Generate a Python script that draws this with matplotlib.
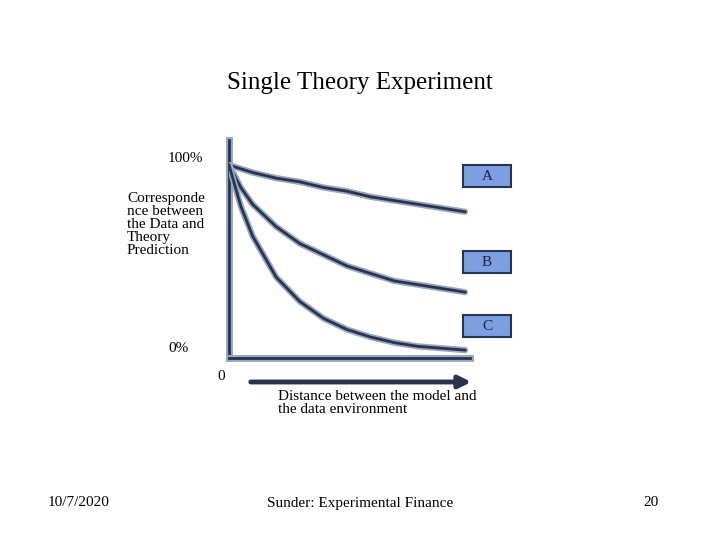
import matplotlib
matplotlib.use("Agg")
import matplotlib.pyplot as plt
from matplotlib.patches import FancyBboxPatch

plt.rcParams['font.family'] = ['Liberation Serif', 'DejaVu Serif']

distance = [0.0, 0.05, 0.1, 0.2, 0.3, 0.4, 0.5, 0.6, 0.7, 0.8, 0.9, 1.0]
curve_a = [100, 98, 96, 93, 91, 88, 86, 83, 81, 79, 77, 75]
curve_b = [100, 88, 79, 67, 58, 52, 46, 42, 38, 36, 34, 32]
curve_c = [100, 78, 62, 40, 27, 18, 12, 8, 5, 3, 2, 1]
labels = ["A", "B", "C"]

W, H = 720, 540
fig = plt.figure(figsize=(W/100, H/100), dpi=100)
ov = fig.add_axes([0, 0, 1, 1]); ov.set_xlim(0, W); ov.set_ylim(H, 0); ov.axis('off')

# data axes in pixel box x 229..470, y 140..360
x0, x1, yt, yb = 229, 470, 140, 360
ax = fig.add_axes([x0/W, 1-yb/H, (x1-x0)/W, (yb-yt)/H])
ax.set_xlim(0, (x1-x0)/(465-229))
ax.set_ylim(-4.3, 113.4)
ax.axis('off')
ax.patch.set_alpha(0)
for ys in (curve_a, curve_b, curve_c):
    ax.plot(distance, ys, color='#9aa7bf', lw=4.5, solid_capstyle='round')
    ax.plot(distance, ys, color='#27344f', lw=2)

# axes lines
ov.plot([229, 229], [140, 358], color='#9aa7bf', lw=5)
ov.plot([229, 229], [140, 358], color='#27344f', lw=2)
ov.plot([229, 470], [358, 358], color='#9aa7bf', lw=5)
ov.plot([229, 470], [358, 358], color='#27344f', lw=2)
ov.annotate('', xy=(474, 382), xytext=(248, 382),
            arrowprops=dict(arrowstyle='-|>', color='#27344f', lw=3.5, mutation_scale=18))

# boxes
for lab, yc in zip(labels, [176, 262, 326]):
    ov.add_patch(FancyBboxPatch((463, yc-11), 48, 22, boxstyle='square,pad=0',
                                fc='#7d9ee0', ec='#27344f', lw=1.5))
    ov.text(487, yc, lab, ha='center', va='center', fontsize=11, color='#1a2340')

ov.text(360, 83, "Single Theory Experiment", ha='center', va='center', fontsize=18)
ov.text(168, 158, "100%", ha='left', va='center', fontsize=11)
ov.text(168, 348, "0%", ha='left', va='center', fontsize=11)
ov.text(217, 376, "0", ha='left', va='center', fontsize=11)
ov.text(127, 192, "Corresponde\nnce between\nthe Data and\nTheory\nPrediction",
        ha='left', va='top', fontsize=11, linespacing=1.0)
ov.text(278, 390, "Distance between the model and\nthe data environment",
        ha='left', va='top', fontsize=11, linespacing=1.0)
ov.text(48, 503, "10/7/2020", ha='left', va='center', fontsize=11)
ov.text(360, 503, "Sunder: Experimental Finance", ha='center', va='center', fontsize=11)
ov.text(659, 503, "20", ha='right', va='center', fontsize=11)

fig.savefig("out.png", dpi=100)
